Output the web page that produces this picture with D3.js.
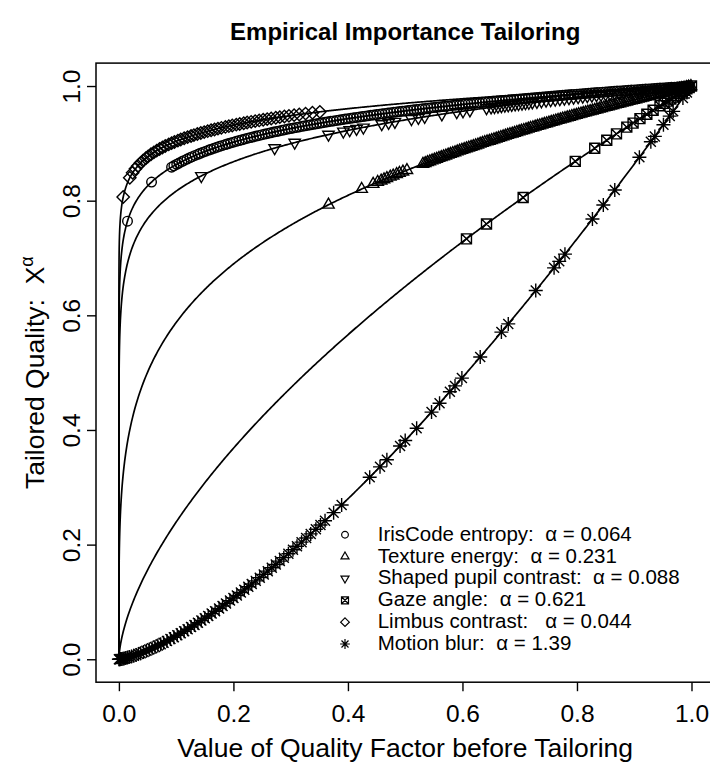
<!DOCTYPE html>
<html>
<head>
<meta charset="utf-8">
<script src="https://cdn.jsdelivr.net/npm/d3@7"></script>
<style>
  body { margin: 0; background: #fff; }
  text { font-family: "Liberation Sans", Arial, Helvetica, sans-serif; fill: #000; white-space: pre; }
</style>
</head>
<body>
<script>
const W = 710, H = 767;

// series, in legend order
const names = ["IrisCode entropy", "Texture energy", "Shaped pupil contrast", "Gaze angle", "Limbus contrast", "Motion blur"];
const alphas = [0.064, 0.231, 0.088, 0.621, 0.044, 1.39];
const alphaText = ["0.064", "0.231", "0.088", "0.621", "0.044", "1.39"];
const gaps = ["  ", "  ", "  ", "  ", "   ", "  "];
const shapes = ["circle", "triUp", "triDown", "boxX", "diamond", "star"];

const irisX = [0.015, 0.057, 0.092, 0.096, 0.101, 0.105, 0.11, 0.114, 0.119, 0.124, 0.128, 0.133, 0.138, 0.142, 0.147,
  0.152, 0.157, 0.161, 0.166, 0.171, 0.176, 0.181, 0.186, 0.19, 0.195, 0.2, 0.205, 0.21, 0.215, 0.22, 0.225, 0.23,
  0.235, 0.24, 0.245, 0.25, 0.255, 0.26, 0.265, 0.27, 0.275, 0.28, 0.285, 0.29, 0.295, 0.3, 0.305, 0.31, 0.315, 0.32,
  0.325, 0.33, 0.335, 0.34, 0.345, 0.35, 0.355, 0.36, 0.365, 0.37, 0.375, 0.38, 0.385, 0.39, 0.395, 0.4, 0.405, 0.41,
  0.415, 0.42, 0.425, 0.43, 0.435, 0.44, 0.445, 0.45, 0.455, 0.46, 0.465, 0.47, 0.475, 0.48, 0.485, 0.49, 0.495, 0.5,
  0.505, 0.51, 0.515, 0.52, 0.525, 0.53, 0.535, 0.54, 0.545, 0.55, 0.555, 0.56, 0.565, 0.57, 0.575, 0.58, 0.585, 0.59,
  0.595, 0.6, 0.605, 0.61, 0.615, 0.62, 0.625, 0.63, 0.635, 0.64, 0.645, 0.65, 0.655, 0.66, 0.665, 0.67, 0.675, 0.68,
  0.685, 0.69, 0.695, 0.7, 0.705, 0.71, 0.715, 0.72, 0.725, 0.73, 0.735, 0.74, 0.745, 0.75, 0.755, 0.76, 0.765, 0.77,
  0.775, 0.78, 0.785, 0.79, 0.795, 0.8, 0.805, 0.81, 0.815, 0.82, 0.825, 0.83, 0.835, 0.84, 0.845, 0.85, 0.855, 0.86,
  0.865, 0.87, 0.875, 0.88, 0.885, 0.89, 0.895, 0.9, 0.905, 0.91, 0.915, 0.92, 0.925, 0.93, 0.935, 0.94, 0.945, 0.95,
  0.955, 0.96, 0.965, 0.97, 0.975, 0.98, 0.985, 0.99, 0.995];
const textureX = [0.366, 0.424, 0.444, 0.452, 0.458, 0.463, 0.468, 0.474, 0.479, 0.485, 0.49, 0.496, 0.503, 0.531, 0.535,
  0.539, 0.543, 0.547, 0.551, 0.555, 0.559, 0.563, 0.567, 0.571, 0.575, 0.579, 0.583, 0.587, 0.591, 0.595, 0.599, 0.603,
  0.607, 0.611, 0.615, 0.619, 0.623, 0.627, 0.631, 0.635, 0.639, 0.643, 0.647, 0.651, 0.655, 0.659, 0.663, 0.667, 0.671,
  0.675, 0.679, 0.683, 0.687, 0.691, 0.695, 0.699, 0.703, 0.707, 0.711, 0.715, 0.719, 0.723, 0.727, 0.731, 0.735, 0.739,
  0.743, 0.747, 0.751, 0.755, 0.759, 0.763, 0.767, 0.771, 0.775, 0.779, 0.783, 0.787, 0.791, 0.795, 0.799, 0.803, 0.807,
  0.811, 0.815, 0.819, 0.823, 0.827, 0.831, 0.835, 0.839, 0.843, 0.847, 0.851, 0.855, 0.859, 0.863, 0.867, 0.871, 0.875,
  0.879, 0.883, 0.887, 0.891, 0.895, 0.899, 0.903, 0.907, 0.911, 0.915, 0.919, 0.923, 0.927, 0.931, 0.935, 0.939, 0.943,
  0.947, 0.951, 0.955, 0.959, 0.963, 0.967, 0.971, 0.975, 0.979, 0.983, 0.987, 0.991, 0.995, 0.999];
const shapedX = [0.144, 0.272, 0.307, 0.366, 0.392, 0.403, 0.415, 0.427, 0.459, 0.471, 0.482, 0.511, 0.523, 0.534, 0.564,
  0.59, 0.601, 0.613, 0.642, 0.65, 0.656, 0.662, 0.668, 0.674, 0.68, 0.686, 0.692, 0.698, 0.704, 0.71, 0.716, 0.722,
  0.73, 0.738, 0.746, 0.754, 0.762, 0.77, 0.778, 0.786, 0.794, 0.802, 0.81, 0.818, 0.826, 0.834, 0.842, 0.85, 0.858,
  0.866, 0.874, 0.882, 0.89, 0.898, 0.906, 0.914, 0.922, 0.93, 0.938, 0.946, 0.954, 0.962, 0.97, 0.978, 0.986, 0.994];
const gazeX = [0.607, 0.642, 0.706, 0.797, 0.831, 0.852, 0.869, 0.887, 0.898, 0.91, 0.922, 0.933, 0.945, 0.952, 0.958,
  0.964, 0.969, 0.974, 0.979, 0.984, 0.988, 0.992, 0.996, 1.0];
const limbusX = [0.0075, 0.019, 0.024, 0.029, 0.033, 0.038, 0.042, 0.047, 0.051, 0.056, 0.061, 0.066, 0.071, 0.076, 0.081,
  0.087, 0.092, 0.097, 0.103, 0.108, 0.114, 0.12, 0.126, 0.131, 0.137, 0.143, 0.149, 0.155, 0.161, 0.167, 0.173, 0.179,
  0.186, 0.192, 0.198, 0.205, 0.211, 0.218, 0.224, 0.231, 0.238, 0.245, 0.252, 0.259, 0.266, 0.274, 0.281, 0.289, 0.297,
  0.306, 0.315, 0.326, 0.338, 0.351];
const motionX = [0, 0.001, 0.002, 0.003, 0.005, 0.007, 0.009, 0.012, 0.015, 0.018, 0.022, 0.026, 0.03, 0.034, 0.038,
  0.043, 0.048, 0.053, 0.058, 0.063, 0.068, 0.073, 0.078, 0.084, 0.09, 0.096, 0.102, 0.108, 0.114, 0.12, 0.126, 0.132,
  0.138, 0.144, 0.15, 0.156, 0.162, 0.168, 0.175, 0.181, 0.187, 0.194, 0.2, 0.206, 0.213, 0.219, 0.226, 0.232, 0.239,
  0.246, 0.253, 0.26, 0.267, 0.274, 0.281, 0.288, 0.296, 0.304, 0.311, 0.319, 0.327, 0.335, 0.344, 0.352, 0.36, 0.375,
  0.389, 0.438, 0.456, 0.468, 0.491, 0.5, 0.52, 0.546, 0.56, 0.578, 0.587, 0.599, 0.631, 0.668, 0.68, 0.728, 0.76, 0.769,
  0.779, 0.827, 0.846, 0.866, 0.909, 0.929, 0.936, 0.951, 0.962, 0.968, 0.985, 0.992];
const seriesX = [irisX, textureX, shapedX, gazeX, limbusX, motionX];

const xTicks = [0, 0.2, 0.4, 0.6, 0.8, 1.0];
const yTicks = [0, 0.2, 0.4, 0.6, 0.8, 1.0];

// plot region (R style: 4% padding round [0,1])
const mLeft = 96, mRight = 714.4, mTop = 63.1, mBottom = 682.2;
const x = d3.scaleLinear().domain([-0.04, 1.04]).range([mLeft, mRight]);
const y = d3.scaleLinear().domain([-0.04, 1.04]).range([mBottom, mTop]);

const svg = d3.select("body").append("svg")
  .attr("width", W).attr("height", H)
  .attr("viewBox", `0 0 ${W} ${H}`);

function symbolPath(shape, s) {
  const p = d3.path();
  if (shape === "circle") {
    const r = 4.8 * s;
    p.moveTo(r, 0); p.arc(0, 0, r, 0, 2 * Math.PI);
  } else if (shape === "triUp" || shape === "triDown") {
    const r = 6.6 * s, k = shape === "triUp" ? 1 : -1;
    p.moveTo(0, -k * r); p.lineTo(r * 0.866, k * r / 2); p.lineTo(-r * 0.866, k * r / 2); p.closePath();
  } else if (shape === "boxX") {
    const h = 5 * s;
    p.rect(-h, -h, 2 * h, 2 * h);
    p.moveTo(-h, -h); p.lineTo(h, h); p.moveTo(h, -h); p.lineTo(-h, h);
  } else if (shape === "diamond") {
    const d = 6.2 * s;
    p.moveTo(0, -d); p.lineTo(d, 0); p.lineTo(0, d); p.lineTo(-d, 0); p.closePath();
  } else if (shape === "star") {
    const a = 7 * s, b = 5 * s;
    p.moveTo(-a, 0); p.lineTo(a, 0); p.moveTo(0, -a); p.lineTo(0, a);
    p.moveTo(-b, -b); p.lineTo(b, b); p.moveTo(b, -b); p.lineTo(-b, b);
  }
  return p.toString();
}

// curve grid for y = x^alpha (fine near zero so the steep parts look smooth)
const grid = [0].concat(d3.range(-14, -2, 0.05).map(e => Math.pow(10, e)), d3.range(0.01, 1.00001, 0.002));
const line = d3.line().x(d => x(d[0])).y(d => y(d[1]));

const plot = svg.append("g");
alphas.forEach((a, i) => {
  plot.append("path")
    .attr("d", line(grid.map(v => [v, Math.pow(v, a)])))
    .attr("fill", "none").attr("stroke", "#000").attr("stroke-width", 1.7);
});

alphas.forEach((a, i) => {
  plot.append("g").selectAll("path")
    .data(seriesX[i])
    .join("path")
      .attr("transform", d => `translate(${x(d)},${y(Math.pow(d, a))})`)
      .attr("d", symbolPath(shapes[i], 1))
      .attr("fill", "none")
      .attr("stroke", "#000")
      .attr("stroke-width", 1.4);
});

// box
svg.append("rect")
  .attr("x", mLeft).attr("y", mTop)
  .attr("width", mRight - mLeft).attr("height", mBottom - mTop)
  .attr("fill", "none").attr("stroke", "#000").attr("stroke-width", 1.5);

// axes
const xAxis = svg.append("g")
  .attr("transform", `translate(0,${mBottom})`)
  .call(d3.axisBottom(x).tickValues(xTicks).tickFormat(d3.format(".1f")).tickSize(9).tickPadding(13));
xAxis.select(".domain").remove();
xAxis.selectAll("line").attr("stroke-width", 1.4);
xAxis.selectAll("text").attr("font-size", 24.5).attr("font-family", null);

const yAxis = svg.append("g")
  .attr("transform", `translate(${mLeft},0)`)
  .call(d3.axisLeft(y).tickValues(yTicks).tickFormat(d3.format(".1f")).tickSize(9));
yAxis.select(".domain").remove();
yAxis.selectAll("line").attr("stroke-width", 1.4);
yAxis.selectAll("text")
  .attr("font-size", 24.5).attr("font-family", null)
  .attr("x", null).attr("dy", null)
  .attr("text-anchor", "middle")
  .attr("transform", "translate(-16,0) rotate(-90)");

// titles
svg.append("text")
  .attr("x", (mLeft + mRight) / 2).attr("y", 40)
  .attr("text-anchor", "middle")
  .attr("font-size", 24).attr("font-weight", "bold")
  .text("Empirical Importance Tailoring");

svg.append("text")
  .attr("x", (mLeft + mRight) / 2).attr("y", 757)
  .attr("text-anchor", "middle")
  .attr("font-size", 26.5)
  .text("Value of Quality Factor before Tailoring");

const yl = svg.append("text")
  .attr("transform", `translate(44,${(mTop + mBottom) / 2}) rotate(-90)`)
  .attr("text-anchor", "middle")
  .attr("font-size", 26.5);
yl.append("tspan").text("Tailored Quality:  X");
yl.append("tspan").attr("font-size", 18).attr("dy", -11).text("α");

// legend
const legend = svg.append("g");
names.forEach((n, i) => {
  const base = 540.7 + i * 21.86;
  legend.append("path")
    .attr("transform", `translate(345,${base - 6})`)
    .attr("d", symbolPath(shapes[i], 0.7))
    .attr("fill", "none").attr("stroke", "#000").attr("stroke-width", 1.2);
  legend.append("text")
    .attr("x", 377.7).attr("y", base)
    .attr("font-size", 20.5)
    .text(`${n}:${gaps[i]}α = ${alphaText[i]}`);
});
</script>
</body>
</html>
